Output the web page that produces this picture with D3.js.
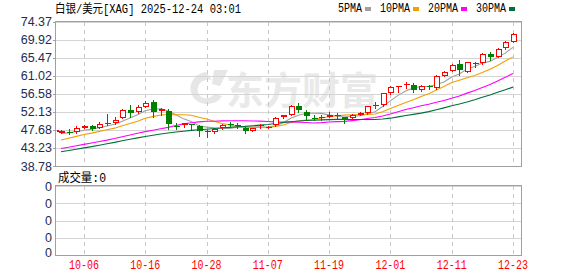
<!DOCTYPE html>
<html lang="zh">
<head>
<meta charset="UTF-8">
<script src="https://d3js.org/d3.v7.min.js"></script>
<style>
  body { margin: 0; background: #fff; }
  text { font-family: "Liberation Mono", "Noto Sans CJK SC", monospace; }
</style>
</head>
<body>
<svg id="chart" width="578" height="276"></svg>
<script>
// trading days shown (MM-DD)
const dates = ["10-01","10-02","10-03","10-06","10-07","10-08","10-09","10-10","10-13","10-14",
  "10-15","10-16","10-17","10-20","10-21","10-22","10-23","10-24","10-27","10-28",
  "10-29","10-30","10-31","11-03","11-04","11-05","11-06","11-07","11-10","11-11",
  "11-12","11-13","11-14","11-17","11-18","11-19","11-20","11-21","11-24","11-25",
  "11-26","11-27","11-28","12-01","12-02","12-03","12-04","12-05","12-08","12-09",
  "12-10","12-11","12-12","12-15","12-16","12-17","12-18","12-19","12-22","12-23"];
const opens = [46.91,47.26,47.23,48.21,48.71,48.21,49.13,49.30,50.60,52.57,
  52.01,53.38,54.54,52.25,52.40,48.70,48.81,49.10,48.51,47.40,
  47.23,48.02,49.05,48.93,48.09,47.47,48.83,48.30,48.76,50.73,
  51.44,53.63,52.20,50.65,50.48,50.97,51.46,50.85,50.60,51.34,
  51.76,53.72,53.80,56.69,58.50,58.80,58.73,57.38,58.40,57.87,
  61.02,62.25,63.78,61.86,64.25,64.07,66.37,65.70,67.77,69.39];
const highs = [47.65,47.89,48.63,48.95,48.95,49.54,51.59,50.92,52.70,53.80,
  53.80,54.79,55.04,52.99,52.75,49.30,49.44,49.20,48.88,47.65,
  47.97,49.13,49.62,49.25,48.34,48.26,49.13,48.63,50.85,51.46,
  53.80,54.37,52.50,51.34,51.34,51.96,51.76,50.97,51.71,51.96,
  53.68,54.54,56.76,58.48,58.60,59.59,59.10,58.61,58.73,61.07,
  62.18,63.90,64.89,64.39,64.28,66.49,66.93,67.72,69.57,71.66];
const lows = [46.84,46.66,46.98,48.07,47.65,48.07,48.88,49.05,50.48,50.92,
  51.76,53.24,50.92,51.34,47.82,47.82,48.46,47.89,46.24,45.85,
  46.98,47.77,48.56,48.26,46.98,47.28,48.21,48.02,48.63,50.48,
  51.22,52.08,50.04,50.04,50.23,50.85,50.60,49.37,50.36,51.22,
  51.59,53.07,53.68,56.52,57.01,57.92,57.01,57.25,57.74,57.74,
  60.95,62.06,61.19,61.81,63.24,64.02,64.89,65.63,67.60,69.32];
const closes = [47.47,47.20,48.07,48.71,47.89,49.20,49.37,50.11,52.57,51.76,
  53.24,54.37,52.15,52.75,49.13,48.60,49.30,49.00,47.40,47.47,
  47.77,48.76,48.81,48.85,47.47,48.09,48.93,48.40,50.55,51.29,
  53.51,52.57,51.05,50.55,50.97,51.46,51.14,50.11,51.46,51.76,
  53.56,53.85,56.64,58.31,58.56,58.90,57.62,58.48,58.30,60.95,
  62.01,63.66,62.38,64.32,64.15,66.29,65.55,67.52,69.39,71.29];

const ma5 = [46.80,46.95,47.25,47.60,47.87,48.21,48.65,49.06,49.83,50.60,
  51.41,52.41,52.82,52.85,52.33,51.40,50.39,49.76,48.69,48.35,
  48.19,48.08,48.04,48.33,48.33,48.40,48.43,48.35,48.69,49.45,
  50.54,51.26,51.79,51.79,51.73,51.32,51.03,50.85,51.03,51.19,
  51.61,52.15,53.45,54.82,56.18,57.25,58.01,58.37,58.37,58.85,
  59.47,60.68,61.46,62.66,63.30,64.16,64.54,65.57,66.58,68.01];
const ma10 = [45.19,45.61,46.07,46.54,46.88,47.30,47.69,48.10,48.71,49.24,
  49.81,50.53,50.94,51.34,51.47,51.41,51.40,51.29,50.77,50.34,
  49.80,49.24,48.90,48.51,48.34,48.30,48.26,48.20,48.51,48.89,
  49.47,49.85,50.07,50.24,50.59,50.93,51.15,51.32,51.41,51.46,
  51.47,51.59,52.15,52.93,53.69,54.43,55.08,55.91,56.60,57.52,
  58.36,59.35,59.92,60.52,61.08,61.82,62.61,63.52,64.62,65.66];
const ma20 = [43.10,43.40,43.75,44.10,44.45,44.80,45.15,45.55,46.00,46.40,
  46.85,47.25,47.60,47.95,48.30,48.75,49.15,49.45,49.65,49.79,
  49.81,49.89,49.92,49.93,49.91,49.86,49.83,49.75,49.64,49.62,
  49.64,49.55,49.49,49.38,49.47,49.62,49.71,49.76,49.96,50.18,
  50.47,50.72,51.11,51.59,52.14,52.68,53.12,53.62,54.01,54.49,
  54.92,55.47,56.04,56.73,57.39,58.13,58.85,59.72,60.61,61.59];
const ma30 = [42.30,42.60,42.90,43.25,43.55,43.90,44.25,44.60,45.00,45.35,
  45.70,46.05,46.35,46.65,46.90,47.15,47.35,47.55,47.70,47.85,
  48.00,48.15,48.30,48.45,48.55,48.70,48.85,49.00,49.25,49.49,
  49.69,49.87,49.97,50.03,50.13,50.21,50.27,50.27,50.23,50.23,
  50.25,50.23,50.37,50.56,50.87,51.22,51.50,51.81,52.17,52.62,
  53.10,53.60,54.05,54.56,55.12,55.73,56.28,56.92,57.54,58.21];

const priceTicks = [74.37,69.92,65.47,61.02,56.58,52.13,47.68,43.23,38.78];
const dateTicks = ["10-06","10-16","10-28","11-07","11-19","12-01","12-11","12-23"];
const volTicks = ["0","0","0","0","0"];
const maNames = ["5PMA","10PMA","20PMA","30PMA"];
const prevClose = 47.35;

const maSeries = [ma5, ma10, ma20, ma30];
const maColors = ["#a0a0a0","#f0a000","#ff00ff","#00703a"];
const upColor = "#ff0000", downColor = "#008000";

const svg = d3.select("#chart");
const L = 56, R = 521;
const main = {top: 21.5, bottom: 166};
const vol = {top: 186, bottom: 255};

const x = d3.scaleLinear().domain([-0.65, dates.length + 0.05]).range([L, R]);
const y = d3.scaleLinear().domain([38.78, 74.37]).range([main.bottom, main.top]);
const yv = d3.scaleLinear().domain([0, volTicks.length - 1]).range([vol.bottom, vol.top]);
const px = v => Math.round(v) + 0.5;

// width of SimSun-like text: CJK 12px, latin 6px
const textW = s => Array.from(s).reduce((a, c) => a + (c.charCodeAt(0) > 255 ? 12 : 6), 0);

// watermark
const wm = svg.append("g").attr("fill", "#e9e9e9");
wm.append("path")
  .attr("d", "M206,72 C190,74 186,92 196,100 C204,107 218,104 222,96 L214,94 C210,100 200,100 198,92 C196,84 204,78 212,80 Z M214,70 L228,70 L220,86 L212,84 Z")
  .attr("fill", "#e6e6e6");
wm.append("text")
  .attr("x", 226).attr("y", 104)
  .style("font-family", "'Noto Sans CJK SC', sans-serif")
  .style("font-size", "38px").style("font-weight", "bold")
  .text("东方财富");

// title + legend
svg.append("text").attr("x", 55).attr("y", 13)
  .style("font-size", "12px").attr("fill", "#000")
  .attr("textLength", textW("白银/美元[XAG] 2025-12-24 03:01"))
  .attr("lengthAdjust", "spacingAndGlyphs")
  .text("白银/美元[XAG] 2025-12-24 03:01");

let lx = 338;
maNames.forEach((n, i) => {
  svg.append("text").attr("x", lx).attr("y", 12)
    .style("font-size", "12px").attr("fill", "#000")
    .attr("textLength", textW(n)).attr("lengthAdjust", "spacingAndGlyphs")
    .text(n);
  lx += textW(n) + 3;
  svg.append("rect").attr("x", lx).attr("y", 7).attr("width", 6).attr("height", 4)
    .attr("fill", maColors[i]);
  lx += 6 + 9;
});

// grids
const grid = svg.append("g").attr("shape-rendering", "crispEdges");
grid.selectAll(".hg").data(priceTicks).enter().append("line")
  .attr("x1", L).attr("x2", R)
  .attr("y1", d => px(y(d))).attr("y2", d => px(y(d)))
  .attr("stroke", "#d4d4d4");
grid.selectAll(".vhg").data(volTicks).enter().append("line")
  .attr("x1", L).attr("x2", R)
  .attr("y1", (d, i) => px(yv(i))).attr("y2", (d, i) => px(yv(i)))
  .attr("stroke", "#d4d4d4");
[[main.top, main.bottom], [vol.top, vol.bottom]].forEach(([t, b]) => {
  grid.selectAll(null).data(dateTicks).enter().append("line")
    .attr("x1", d => px(x(dates.indexOf(d)))).attr("x2", d => px(x(dates.indexOf(d))))
    .attr("y1", t).attr("y2", b)
    .attr("stroke", "#c8c8c8").attr("stroke-dasharray", "4,4");
  grid.append("rect").attr("x", L - 0.5).attr("y", px(t) - 1)
    .attr("width", R - L + 1).attr("height", px(b) - px(t) + 1)
    .attr("fill", "none").attr("stroke", "#a0a0a0");
});

// y axis labels
const axisFont = "'Liberation Sans', Arial, sans-serif";
svg.selectAll(".yl").data(priceTicks).enter().append("text")
  .attr("x", 52).attr("y", d => y(d) + 4.5)
  .attr("text-anchor", "end").style("font-family", axisFont).style("font-size", "12.5px")
  .attr("fill", "#1e2d50").text(d => d.toFixed(2));
svg.selectAll(".yt").data(priceTicks).enter().append("line")
  .attr("x1", 53).attr("x2", 56)
  .attr("y1", d => px(y(d))).attr("y2", d => px(y(d)))
  .attr("stroke", "#a0a0a0").attr("shape-rendering", "crispEdges");
svg.selectAll(".vl").data(volTicks).enter().append("text")
  .attr("x", 52).attr("y", (d, i) => Math.min(yv(i) + 4.5, vol.bottom + 2))
  .attr("text-anchor", "end").style("font-family", axisFont).style("font-size", "12.5px")
  .attr("fill", "#1e2d50").text(d => d);
svg.append("rect").attr("x", 57).attr("y", Math.round(y(prevClose)) - 1)
  .attr("width", 2).attr("height", 2).attr("fill", upColor);

// MA lines
maSeries.forEach((s, k) => {
  svg.append("path").datum(s)
    .attr("fill", "none").attr("stroke", maColors[k]).attr("stroke-width", 1.1)
    .attr("d", d3.line().x((d, i) => x(i)).y(d => y(d)));
});

// candles
const candles = svg.append("g").attr("shape-rendering", "crispEdges")
  .selectAll("g").data(dates).enter().append("g");
candles.each(function(d, i) {
  const g = d3.select(this);
  const up = closes[i] >= opens[i];
  const c = up ? upColor : downColor;
  const cx = px(x(i));
  const top = Math.round(y(Math.max(opens[i], closes[i])));
  const bot = Math.round(y(Math.min(opens[i], closes[i])));
  g.append("line").attr("x1", cx).attr("x2", cx)
    .attr("y1", Math.round(y(highs[i]))).attr("y2", Math.round(y(lows[i])) + 1)
    .attr("stroke", c);
  if (bot - top < 2) {
    g.append("line").attr("x1", cx - 3).attr("x2", cx + 3)
      .attr("y1", top + 0.5).attr("y2", top + 0.5).attr("stroke", c);
  } else if (up) {
    g.append("rect").attr("x", cx - 2.5).attr("y", top + 0.5)
      .attr("width", 5).attr("height", bot - top - 1)
      .attr("fill", "#fff").attr("stroke", c);
  } else {
    g.append("rect").attr("x", cx - 3).attr("y", top)
      .attr("width", 6).attr("height", bot - top).attr("fill", c);
  }
});

// volume title and date labels
svg.append("text").attr("x", 58).attr("y", 182)
  .style("font-size", "12px").attr("fill", "#000")
  .attr("textLength", textW("成交量:0")).attr("lengthAdjust", "spacingAndGlyphs")
  .text("成交量:0");
svg.selectAll(".dl").data(dateTicks).enter().append("text")
  .attr("x", d => x(dates.indexOf(d))).attr("y", 269)
  .attr("text-anchor", "middle").style("font-size", "12px").attr("fill", "#ff0000")
  .attr("textLength", d => textW(d)).attr("lengthAdjust", "spacingAndGlyphs")
  .text(d => d);
</script>
</body>
</html>
